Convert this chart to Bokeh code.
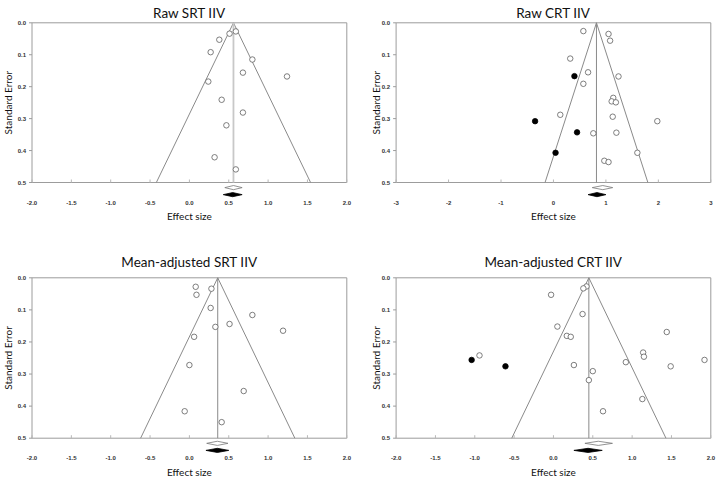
import math
from bokeh.plotting import figure
from bokeh.layouts import column, row
from bokeh.models import Range1d
from bokeh.core.properties import value
from bokeh.embed import file_html
from bokeh.resources import INLINE

# ---------------- data ----------------
# Raw SRT IIV
srt_raw_es = [0.59, 0.51, 0.38, 0.27, 0.80, 0.68, 1.24, 0.24, 0.41, 0.68, 0.47, 0.32, 0.59]
srt_raw_se = [0.027, 0.034, 0.053, 0.092, 0.115, 0.156, 0.168, 0.184, 0.241, 0.281, 0.321, 0.421, 0.459]
srt_raw_fill_es = []
srt_raw_fill_se = []
srt_raw_center = 0.56
srt_raw_obs_ci = [0.45, 0.56, 0.67]
srt_raw_adj_ci = [0.43, 0.55, 0.67]

# Raw CRT IIV
crt_raw_es = [0.57, 1.05, 1.08, 0.32, 0.66, 1.24, 0.57, 1.14, 1.11, 1.19, 1.13, 0.13, 1.98, 0.76, 1.20, 1.60, 0.97, 1.05]
crt_raw_se = [0.026, 0.035, 0.056, 0.112, 0.155, 0.168, 0.191, 0.235, 0.246, 0.249, 0.294, 0.288, 0.308, 0.346, 0.344, 0.407, 0.432, 0.436]
crt_raw_fill_es = [0.40, -0.35, 0.45, 0.04]
crt_raw_fill_se = [0.167, 0.308, 0.343, 0.407]
crt_raw_center = 0.82
crt_raw_obs_ci = [0.74, 0.94, 1.13]
crt_raw_adj_ci = [0.66, 0.83, 1.00]

# Mean-adjusted SRT IIV
srt_adj_es = [0.08, 0.28, 0.09, 0.27, 0.80, 0.51, 0.33, 1.19, 0.06, 0.00, 0.69, -0.06, 0.41]
srt_adj_se = [0.028, 0.034, 0.053, 0.094, 0.116, 0.144, 0.153, 0.165, 0.184, 0.272, 0.353, 0.416, 0.450]
srt_adj_fill_es = []
srt_adj_fill_se = []
srt_adj_center = 0.36
srt_adj_obs_ci = [0.22, 0.355, 0.49]
srt_adj_adj_ci = [0.21, 0.355, 0.50]

# Mean-adjusted CRT IIV
crt_adj_es = [0.42, 0.38, -0.03, 0.37, 0.05, 1.44, 0.17, 0.22, -0.94, 1.14, 1.15, 1.92, 0.92, 0.26, 1.49, 0.50, 0.45, 1.13, 0.63]
crt_adj_se = [0.027, 0.033, 0.053, 0.113, 0.152, 0.169, 0.181, 0.184, 0.242, 0.233, 0.246, 0.256, 0.263, 0.272, 0.276, 0.291, 0.319, 0.378, 0.416]
crt_adj_fill_es = [-1.04, -0.61]
crt_adj_fill_se = [0.256, 0.276]
crt_adj_center = 0.45
crt_adj_obs_ci = [0.40, 0.57, 0.75]
crt_adj_adj_ci = [0.26, 0.44, 0.62]

titles = ["Raw SRT IIV", "Raw CRT IIV", "Mean-adjusted SRT IIV", "Mean-adjusted CRT IIV"]
x_ticks_a = [-2.0, -1.5, -1.0, -0.5, 0.0, 0.5, 1.0, 1.5, 2.0]
x_tick_labels_a = ["-2.0", "-1.5", "-1.0", "-0.5", "0.0", "0.5", "1.0", "1.5", "2.0"]
x_ticks_b = [-3, -2, -1, 0, 1, 2, 3]
x_tick_labels_b = ["-3", "-2", "-1", "0", "1", "2", "3"]
y_ticks = [0.0, 0.1, 0.2, 0.3, 0.4, 0.5]
y_tick_labels = ["0.0", "0.1", "0.2", "0.3", "0.4", "0.5"]
x_label = "Effect size"
y_label = "Standard Error"
se_max = 0.5
z = 1.96

TITLE_FONT = "Lato"
TICK_FONT = "Liberation Sans"
BOX_COLOR = "#9c9c9c"
LINE_COLOR = "#8a8a8a"


def funnel(title, es, se, fes, fse, center, obs_ci, adj_ci, xticks, xlabels,
           fig_box, plot_box, title_y, ylab_x, light_center=False):
    # fig_box: picture pixels (left, top, width, height); plot_box: picture pixels (L, R, T, B)
    fx, fy, W, H = fig_box
    L, R, T, B = plot_box
    x0, x1 = xticks[0], xticks[-1]
    sx = (x1 - x0) / (R - L)
    sy = se_max / (B - T)

    def X(px):
        return x0 + (px - L) * sx

    def Y(py):
        return (py - T) * sy

    p = figure(width=W, height=H, output_backend="svg", toolbar_location=None,
               x_range=Range1d(X(fx), X(fx + W)), y_range=Range1d(Y(fy + H), Y(fy)),
               min_border=0, min_border_left=0, min_border_right=0,
               min_border_top=0, min_border_bottom=0)
    p.outline_line_color = None
    p.xaxis.visible = False
    p.yaxis.visible = False
    p.xgrid.visible = False
    p.ygrid.visible = False
    p.background_fill_color = "white"
    p.border_fill_color = "white"

    # box
    p.line([x0, x1, x1, x0, x0], [0.0, 0.0, se_max, se_max, 0.0], line_color=BOX_COLOR, line_width=1)
    # x ticks (inward, at box bottom)
    p.segment(x0=xticks, y0=[se_max] * len(xticks), x1=xticks, y1=[Y(B - 3)] * len(xticks),
              line_color="#b8b8b8", line_width=1)
    # y ticks (outward, at box left)
    p.segment(x0=[X(L - 3)] * len(y_ticks), y0=y_ticks, x1=[x0] * len(y_ticks), y1=y_ticks,
              line_color=BOX_COLOR, line_width=1)

    # funnel
    p.line([center - z * se_max, center, center + z * se_max], [se_max, 0.0, se_max],
           line_color=LINE_COLOR, line_width=1)
    if light_center:
        p.segment(x0=[center], y0=[0.0], x1=[center], y1=[se_max], line_color="#c8c8c8", line_width=1.8)
    else:
        p.segment(x0=[center], y0=[0.0], x1=[center], y1=[se_max], line_color=LINE_COLOR, line_width=1)

    # studies
    p.scatter(es, se, marker="circle", size=5.5, fill_color="white", line_color="#5e5e5e", line_width=0.8)
    if fes:
        p.scatter(fes, fse, marker="circle", size=5.5, fill_color="black", line_color="black", line_width=0.8)

    # summary diamonds
    y1, y2, h = 0.516, 0.538, 0.0065
    p.patch([obs_ci[0], obs_ci[1], obs_ci[2], obs_ci[1]], [y1, y1 - h, y1, y1 + h],
            fill_color="white", line_color="#777777", line_width=0.8)
    p.patch([adj_ci[0], adj_ci[1], adj_ci[2], adj_ci[1]], [y2, y2 - h, y2, y2 + h],
            fill_color="black", line_color="black", line_width=0.8)

    # texts
    p.text(x=[(x0 + x1) / 2], y=[Y(title_y)], text=[title], text_font=value(TITLE_FONT),
           text_font_size="13.5px", text_align="center", text_baseline="middle", text_color="#111111")
    p.text(x=xticks, y=[Y(B + 20)] * len(xticks), text=xlabels, text_font=value(TICK_FONT),
           text_font_size="6px", text_font_style="bold", text_align="center", text_baseline="middle",
           text_color="#333333")
    p.text(x=[X(L - 6)] * len(y_ticks), y=y_ticks, text=y_tick_labels, text_font=value(TICK_FONT),
           text_font_size="6px", text_font_style="bold", text_align="right", text_baseline="middle",
           text_color="#333333")
    p.text(x=[(x0 + x1) / 2], y=[Y(B + 33.5)], text=[x_label], text_font=value(TITLE_FONT),
           text_font_size="10px", text_align="center", text_baseline="middle", text_color="#111111")
    p.text(x=[X(ylab_x)], y=[se_max / 2], text=[y_label], text_font=value(TITLE_FONT),
           text_font_size="10px", text_align="center", text_baseline="middle", text_color="#111111",
           angle=math.pi / 2)
    return p


# layout appears at picture offset (1, 1)
p1 = funnel(titles[0], srt_raw_es, srt_raw_se, srt_raw_fill_es, srt_raw_fill_se, srt_raw_center,
            srt_raw_obs_ci, srt_raw_adj_ci, x_ticks_a, x_tick_labels_a,
            (1, 1, 356, 232), (32.5, 347.3, 23.3, 183.0), 13, 8.5, light_center=True)
p2 = funnel(titles[1], crt_raw_es, crt_raw_se, crt_raw_fill_es, crt_raw_fill_se, crt_raw_center,
            crt_raw_obs_ci, crt_raw_adj_ci, x_ticks_b, x_tick_labels_b,
            (357, 1, 360, 232), (396.6, 711.3, 23.3, 183.0), 13, 376.7)
p3 = funnel(titles[2], srt_adj_es, srt_adj_se, srt_adj_fill_es, srt_adj_fill_se, srt_adj_center,
            srt_adj_obs_ci, srt_adj_adj_ci, x_ticks_a, x_tick_labels_a,
            (1, 233, 356, 246), (32.5, 347.3, 278.3, 438.7), 262, 8.5)
p4 = funnel(titles[3], crt_adj_es, crt_adj_se, crt_adj_fill_es, crt_adj_fill_se, crt_adj_center,
            crt_adj_obs_ci, crt_adj_adj_ci, x_ticks_a, x_tick_labels_a,
            (357, 233, 360, 246), (396.6, 711.3, 278.3, 438.7), 262, 376.7)

layout = column(row(p1, p2), row(p3, p4))
open("out.html", "w").write(file_html(layout, INLINE))
